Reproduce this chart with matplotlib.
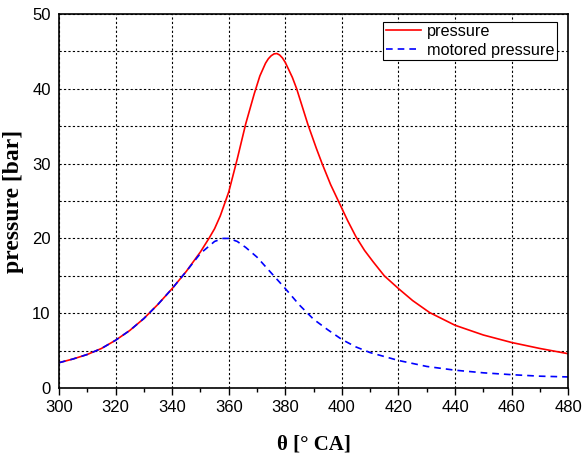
import numpy as np
import matplotlib.pyplot as plt
from matplotlib.ticker import MultipleLocator

# crank angle [deg CA] and pressures [bar]
theta_p = [300, 305, 310, 315, 320, 325, 330, 335, 340, 345, 350, 353, 355, 357,
           360, 363, 366, 369, 371, 373, 374, 375, 376, 377, 378, 379, 380, 381, 382.5,
           384, 386, 388, 391, 393, 396, 399, 402, 405, 408, 411, 415, 420, 425, 431,
           440, 450, 460, 470, 480]
pressure = [3.4, 3.9, 4.5, 5.3, 6.4, 7.7, 9.3, 11.2, 13.3, 15.6, 18.2, 20.0, 21.3, 23.0,
            26.2, 30.6, 35.3, 39.3, 41.7, 43.4, 44.0, 44.4, 44.65, 44.7, 44.5, 44.1, 43.5, 42.7, 41.5,
            40.0, 37.6, 35.2, 32.0, 30.0, 27.2, 24.8, 22.4, 20.2, 18.4, 16.9, 15.0, 13.3, 11.7, 10.1,
            8.4, 7.1, 6.1, 5.3, 4.6]

theta_m = [300, 305, 310, 315, 320, 325, 330, 335, 340, 345, 350, 355, 358, 360,
           363, 366, 370, 375, 380, 385, 390, 395, 400, 405, 410, 420, 430, 440,
           450, 460, 470, 480]
motored = [3.4, 3.9, 4.5, 5.3, 6.4, 7.7, 9.3, 11.2, 13.3, 15.6, 18.0, 19.6, 20.0, 20.0,
           19.6, 18.8, 17.5, 15.4, 13.3, 11.1, 9.2, 7.8, 6.5, 5.5, 4.75, 3.7, 2.9, 2.4,
           2.05, 1.8, 1.6, 1.5]

plt.rcParams['font.family'] = ['Liberation Sans', 'DejaVu Sans']

fig = plt.figure(figsize=(5.84, 4.61), dpi=100)
ax = fig.add_axes([0.101, 0.158, 0.872, 0.812])

ax.plot(theta_p, pressure, color='red', lw=1.2, label='pressure')
ax.plot(theta_m, motored, color='blue', lw=1.2, linestyle=(0, (4, 3)), label='motored pressure')

ax.set_xlim(300, 480)
ax.set_ylim(0, 50)
ax.xaxis.set_major_locator(MultipleLocator(20))
ax.xaxis.set_minor_locator(MultipleLocator(10))
ax.yaxis.set_major_locator(MultipleLocator(10))
ax.yaxis.set_minor_locator(MultipleLocator(5))

ax.grid(True, which='major', axis='x', color='black', linestyle=(0, (2, 2)), lw=0.8)
ax.grid(True, which='both', axis='y', color='black', linestyle=(0, (2, 2)), lw=0.8)

ax.tick_params(axis='x', which='major', direction='out', length=5, width=1, labelsize=12)
ax.tick_params(axis='x', which='minor', direction='out', length=3, width=1)
ax.tick_params(axis='y', which='both', length=0, labelsize=12, pad=6)
for s in ax.spines.values():
    s.set_linewidth(1.2)

ax.set_xlabel('θ [° CA]', family='Liberation Serif', fontweight='bold', fontsize=15, labelpad=14)
ax.set_ylabel('pressure [bar]', family='Liberation Serif', fontweight='bold', fontsize=17)
ax.yaxis.set_label_coords(-0.068, 0.5)

leg = ax.legend(loc='upper right', bbox_to_anchor=(0.978, 0.979), fontsize=11.7,
                fancybox=False, framealpha=1, edgecolor='black', borderaxespad=0,
                handlelength=2.15, borderpad=0.15, labelspacing=0.23, handletextpad=0.4)
leg.get_frame().set_linewidth(0.8)

fig.savefig('out.png', dpi=100)
